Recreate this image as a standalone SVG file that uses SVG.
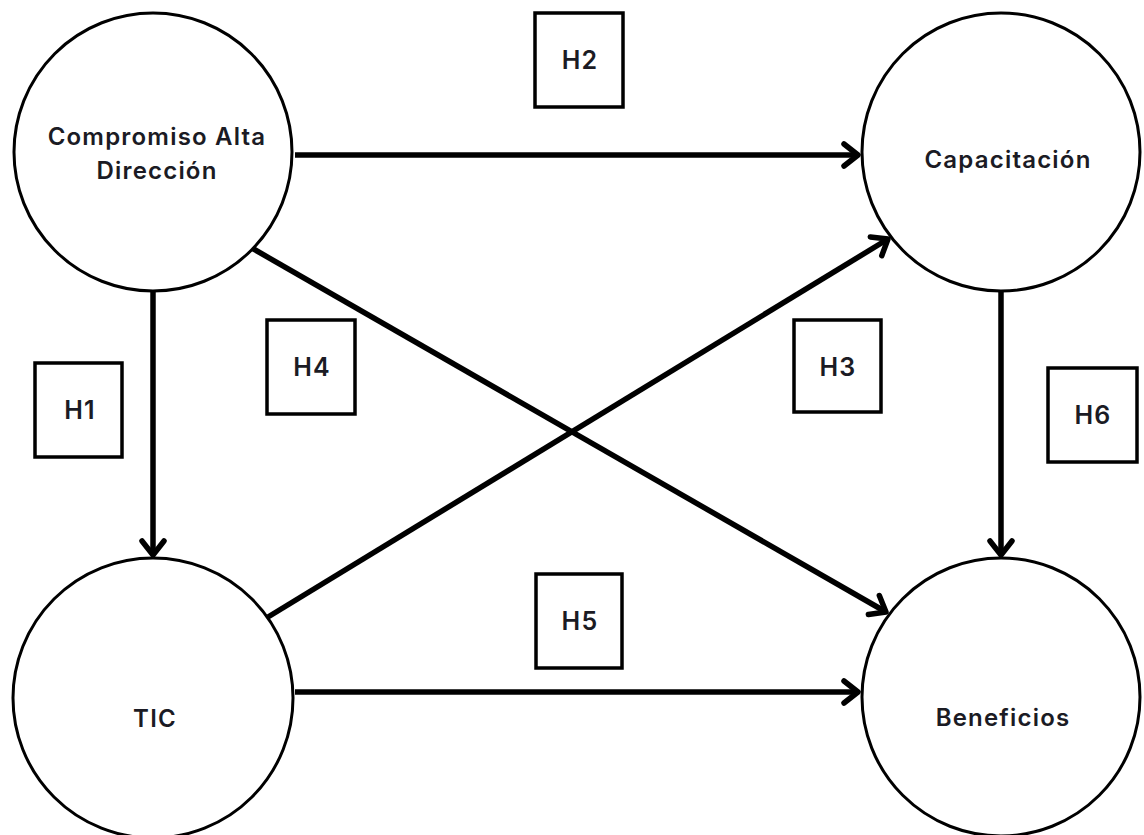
<svg xmlns="http://www.w3.org/2000/svg" width="1144" height="835" viewBox="0 0 1144 835">
  <style>
    .node { fill: #ffffff; stroke: #000000; stroke-width: 3; }
    .box { fill: #ffffff; stroke: #000000; stroke-width: 3.5; }
    .label { font-family: Inter, "Liberation Sans", sans-serif; font-weight: 600; font-size: 24px; fill: #1b1b24; text-anchor: middle; letter-spacing: 1.2px; }
    .hlabel { font-family: Inter, "Liberation Sans", sans-serif; font-weight: 600; font-size: 25px; fill: #1b1b24; text-anchor: middle; letter-spacing: 1.2px; }
    .edge { fill: none; stroke: #000000; stroke-width: 5.5; marker-end: url(#chev); }
  </style>
  <defs>
    <marker id="chev" markerUnits="userSpaceOnUse" markerWidth="40" markerHeight="40" viewBox="-20 -20 40 40" refX="0" refY="0" orient="auto">
      <path d="M-14,-11 L0,0 L-14,11" fill="none" stroke="#000000" stroke-width="5.5" stroke-linecap="round" stroke-linejoin="round"/>
    </marker>
  </defs>
  <rect width="1144" height="835" fill="#ffffff"/>

  <!-- relations -->
  <g id="connectors">
    <line class="edge" x1="295" y1="155" x2="858" y2="155"/>
    <line class="edge" x1="153" y1="292" x2="153" y2="555"/>
    <line class="edge" x1="1001" y1="291" x2="1001" y2="555"/>
    <line class="edge" x1="295" y1="692" x2="858" y2="692"/>
    <line class="edge" x1="250" y1="247" x2="886" y2="612"/>
    <line class="edge" x1="268" y1="617" x2="888" y2="239"/>
  </g>

  <!-- constructs -->
  <g id="compromiso">
    <circle class="node" cx="153" cy="152" r="139"/>
    <text class="label" x="157" y="145">Compromiso Alta</text>
    <text class="label" x="157" y="179">Dirección</text>
  </g>
  <g id="capacitacion">
    <circle class="node" cx="1001" cy="152" r="139"/>
    <text class="label" x="1008" y="168">Capacitación</text>
  </g>
  <g id="tic">
    <circle class="node" cx="153" cy="698" r="140"/>
    <text class="label" x="155" y="727">TIC</text>
  </g>
  <g id="beneficios">
    <circle class="node" cx="1001" cy="697" r="139"/>
    <text class="label" x="1003" y="726">Beneficios</text>
  </g>

  <!-- hypotheses -->
  <g id="h1">
    <rect class="box" x="35" y="363" width="87" height="94"/>
    <text class="hlabel" x="80" y="419">H1</text>
  </g>
  <g id="h2">
    <rect class="box" x="535" y="13" width="88" height="94"/>
    <text class="hlabel" x="580" y="69">H2</text>
  </g>
  <g id="h3">
    <rect class="box" x="794" y="320" width="87" height="92"/>
    <text class="hlabel" x="838" y="376">H3</text>
  </g>
  <g id="h4">
    <rect class="box" x="267" y="320" width="88" height="94"/>
    <text class="hlabel" x="312" y="376">H4</text>
  </g>
  <g id="h5">
    <rect class="box" x="536" y="574" width="86" height="94"/>
    <text class="hlabel" x="580" y="630">H5</text>
  </g>
  <g id="h6">
    <rect class="box" x="1048" y="368" width="89" height="94"/>
    <text class="hlabel" x="1093" y="424">H6</text>
  </g>
</svg>
